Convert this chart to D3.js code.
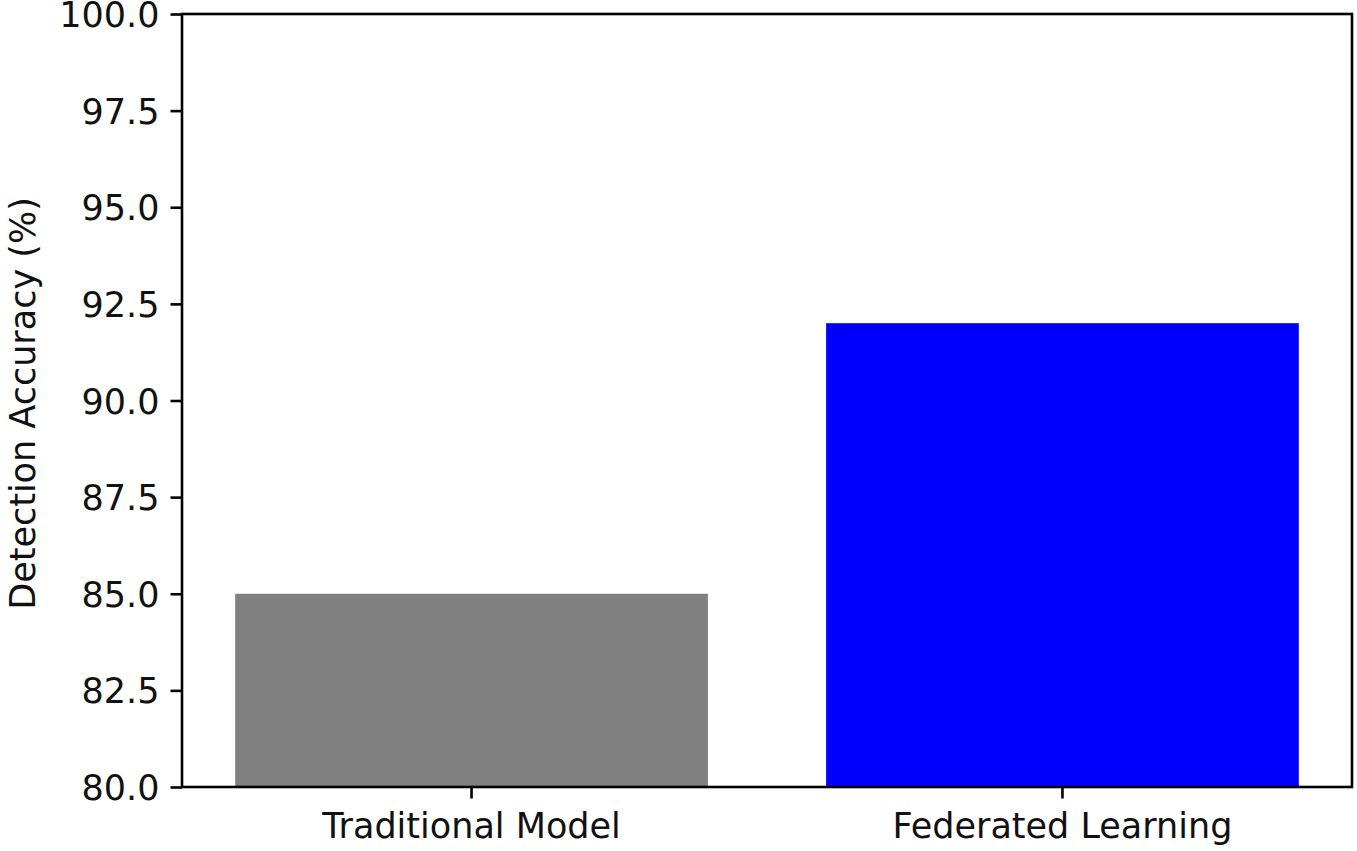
<!DOCTYPE html>
<html>
<head>
<meta charset="utf-8">
<script src="https://cdn.jsdelivr.net/npm/d3@7"></script>
<style>
  html, body { margin: 0; padding: 0; background: #fff; }
  svg { display: block; }
  text { font-family: "DejaVu Sans", sans-serif; }
</style>
</head>
<body>
<svg id="chart" width="1357" height="851"></svg>
<script>
const categories = ["Traditional Model", "Federated Learning"];
const values = [85, 92];
const barColors = ["#808080", "#0000ff"];
const yTicks = [80, 82.5, 85, 87.5, 90, 92.5, 95, 97.5, 100];
const yLabel = "Detection Accuracy (%)";

const W = 1357, H = 851;
const margin = { left: 182, top: 14, right: 5, bottom: 64 };
const x0 = margin.left, x1 = W - margin.right;
const y0 = H - margin.bottom, y1 = margin.top;
const fontSize = 35;
const lw = 2.6;
const tickLen = 11.5;

const svg = d3.select("#chart");

const x = d3.scaleBand().domain(categories).range([x0, x1])
  .paddingInner(0.2).paddingOuter(0.09);
const y = d3.scaleLinear().domain([80, 100]).range([y0, y1]);

// bars
svg.append("g").selectAll("rect").data(categories).join("rect")
  .attr("x", d => x(d))
  .attr("width", x.bandwidth())
  .attr("y", (d, i) => y(values[i]))
  .attr("height", (d, i) => y(80) - y(values[i]))
  .attr("fill", (d, i) => barColors[i]);

// y axis
const yAxis = svg.append("g").attr("transform", `translate(${x0},0)`)
  .call(d3.axisLeft(y).tickValues(yTicks).tickFormat(d3.format(".1f"))
    .tickSize(tickLen).tickPadding(11));
yAxis.select(".domain").remove();
yAxis.selectAll(".tick line").attr("stroke", "#000").attr("stroke-width", lw);
yAxis.selectAll(".tick text").attr("font-size", fontSize).attr("fill", "#111")
  .attr("font-family", "DejaVu Sans").attr("dy", "0.36em");

// x axis
const xAxis = svg.append("g").attr("transform", `translate(0,${y0})`)
  .call(d3.axisBottom(x).tickSize(tickLen).tickPadding(14));
xAxis.select(".domain").remove();
xAxis.selectAll(".tick line").attr("stroke", "#000").attr("stroke-width", lw);
xAxis.selectAll(".tick text").attr("font-size", fontSize).attr("fill", "#111")
  .attr("font-family", "DejaVu Sans").attr("dy", "0.72em");

// spines
svg.append("rect")
  .attr("x", x0).attr("y", y1)
  .attr("width", x1 - x0).attr("height", y0 - y1)
  .attr("fill", "none").attr("stroke", "#000").attr("stroke-width", lw);

// y label
svg.append("text")
  .attr("transform", `translate(35,${(y0 + y1) / 2 + 3}) rotate(-90)`)
  .attr("text-anchor", "middle")
  .attr("font-size", fontSize)
  .attr("fill", "#111")
  .text(yLabel);
</script>
</body>
</html>
